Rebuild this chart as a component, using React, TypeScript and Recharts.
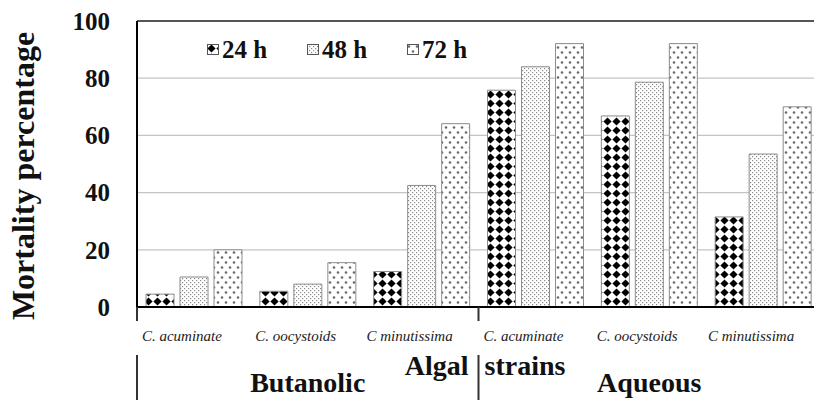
import React from 'react';
import { BarChart, Bar, XAxis, YAxis, CartesianGrid, Legend, ReferenceLine } from 'recharts';

const categories = ['C. acuminate', 'C. oocystoids', 'C minutissima', 'C. acuminate', 'C. oocystoids', 'C minutissima'];
const groupNames = ['Butanolic', 'Aqueous'];
const axisTitleLeft = 'Algal';
const axisTitleRight = 'strains';
const mortality24h = [4.5, 5.5, 12.4, 75.8, 66.8, 31.5];
const mortality48h = [10.5, 8, 42.5, 84, 78.6, 53.5];
const mortality72h = [20, 15.5, 64.1, 92.1, 92.1, 70];
const seriesNames = ['24 h', '48 h', '72 h'];
const yTicks = [0, 20, 40, 60, 80, 100];
const yTitle = 'Mortality percentage';

const data = categories.map((c, i) => ({
  id: String(i),
  name: c,
  h24: mortality24h[i],
  h48: mortality48h[i],
  h72: mortality72h[i],
}));

const SERIF = '"Liberation Serif", "Times New Roman", serif';

const PatternDefs = ({ prefix }: { prefix: string }) => (
  <defs>
    <pattern id={`${prefix}24`} width={9} height={9} patternUnits="userSpaceOnUse">
      <rect width={9} height={9} fill="#fff" />
      <polygon points="4.5,0.4 8.6,4.5 4.5,8.6 0.4,4.5" fill="#000" />
    </pattern>
    <pattern id={`${prefix}48`} width={4} height={4} patternUnits="userSpaceOnUse">
      <rect width={4} height={4} fill="#fff" />
      <rect x={0} y={0} width={1.2} height={1.2} fill="#8a8a8a" />
      <rect x={2} y={2} width={1.2} height={1.2} fill="#8a8a8a" />
    </pattern>
    <pattern id={`${prefix}72`} width={8} height={10} patternUnits="userSpaceOnUse">
      <rect width={8} height={10} fill="#fff" />
      <circle cx={2} cy={2.5} r={1.3} fill="#6a6a6a" />
      <circle cx={6} cy={7.5} r={1.3} fill="#6a6a6a" />
    </pattern>
  </defs>
);

const CategoryTick = (props: any) => {
  const { x, y, payload } = props;
  const i: number = payload && typeof payload.index === 'number' ? payload.index : props.index;
  const band = payload && payload.offset ? payload.offset * 2 : 113.8;
  const left = x - band / 2;
  const isGroupStart = i % 3 === 0;
  return (
    <g>
      <text
        x={x - 12}
        y={y + 29}
        dy="0.35em"
        textAnchor="middle"
        fontFamily={SERIF}
        fontStyle="italic"
        fontSize={15}
        fill="#222"
      >
        {categories[i]}
      </text>
      {isGroupStart && (
        <g>
          <line x1={left} y1={y} x2={left} y2={y + 14} stroke="#333" strokeWidth={2} />
          <line x1={left} y1={y + 48} x2={left} y2={y + 100} stroke="#333" strokeWidth={2} />
          <text
            x={x + band}
            y={y + 75}
            dy="0.35em"
            textAnchor="middle"
            fontFamily={SERIF}
            fontWeight="bold"
            fontSize={28}
            fill="#111"
          >
            {groupNames[Math.floor(i / 3)]}
          </text>
        </g>
      )}
      {i === 3 && (
        <g>
          <text x={left - 10} y={y + 58} dy="0.35em" textAnchor="end" fontFamily={SERIF} fontWeight="bold" fontSize={28} fill="#111">
            {axisTitleLeft}
          </text>
          <text x={left + 6} y={y + 58} dy="0.35em" textAnchor="start" fontFamily={SERIF} fontWeight="bold" fontSize={28} fill="#111">
            {axisTitleRight}
          </text>
        </g>
      )}
    </g>
  );
};

const YTitle = (props: any) => {
  const vb = props.viewBox || { x: 0, y: 21, width: 137, height: 286 };
  const cx = vb.x + 23;
  const cy = vb.y + vb.height / 2 + 12;
  return (
    <text
      x={cx}
      y={cy}
      dy="0.35em"
      transform={`rotate(-90, ${cx}, ${cy})`}
      textAnchor="middle"
      fontFamily={SERIF}
      fontWeight="bold"
      fontSize={32}
      fill="#111"
    >
      {yTitle}
    </text>
  );
};

const legendKeys = ['24', '48', '72'];

const LegendContent = () => (
  <div style={{ display: 'flex', alignItems: 'center', fontFamily: SERIF, fontWeight: 'bold', fontSize: 25, color: '#111', lineHeight: 1 }}>
    {seriesNames.map((n, i) => (
      <div key={n} style={{ display: 'flex', alignItems: 'center', width: 100 }}>
        <svg width={12} height={11} style={{ display: 'block' }}>
          <PatternDefs prefix={`lg${i}_`} />
          <rect x={0.5} y={0.5} width={11} height={10} fill={`url(#lg${i}_${legendKeys[i]})`} stroke="#555" strokeWidth={1} />
        </svg>
        <span style={{ marginLeft: 3 }}>{n}</span>
      </div>
    ))}
  </div>
);

export default function App() {
  return (
    <div style={{ position: 'absolute', left: 0, top: 0, width: 814, height: 400, overflow: 'hidden', background: '#fff' }}>
      <BarChart
        width={820}
        height={400}
        data={data}
        margin={{ top: 21, right: 0, bottom: 0, left: 0 }}
        barCategoryGap={9}
        barGap={6}
      >
        <PatternDefs prefix="bar" />
        <CartesianGrid vertical={false} stroke="#c4c4c4" strokeWidth={1.2} />
        <ReferenceLine y={100} stroke="#555" strokeWidth={2} />
        <XAxis
          dataKey="id"
          height={93}
          tickLine={false}
          tickSize={0}
          tickMargin={0}
          axisLine={{ stroke: '#000', strokeWidth: 2 }}
          tick={<CategoryTick />}
          interval={0}
        />
        <YAxis
          width={137}
          domain={[0, 100]}
          ticks={yTicks}
          tickLine={false}
          tickSize={0}
          tickMargin={27}
          axisLine={{ stroke: '#000', strokeWidth: 2 }}
          tick={{ fontFamily: SERIF, fontWeight: 'bold', fontSize: 25, fill: '#111' }}
          label={<YTitle />}
        />
        <Legend
          layout="horizontal"
          verticalAlign="middle"
          content={<LegendContent />}
          wrapperStyle={{ top: 37, left: 207, width: 320, height: 28 }}
        />
        <Bar dataKey="h24" name={seriesNames[0]} fill="url(#bar24)" stroke="#8c8c8c" strokeWidth={1} isAnimationActive={false} />
        <Bar dataKey="h48" name={seriesNames[1]} fill="url(#bar48)" stroke="#8c8c8c" strokeWidth={1} isAnimationActive={false} />
        <Bar dataKey="h72" name={seriesNames[2]} fill="url(#bar72)" stroke="#8c8c8c" strokeWidth={1} isAnimationActive={false} />
      </BarChart>
    </div>
  );
}
